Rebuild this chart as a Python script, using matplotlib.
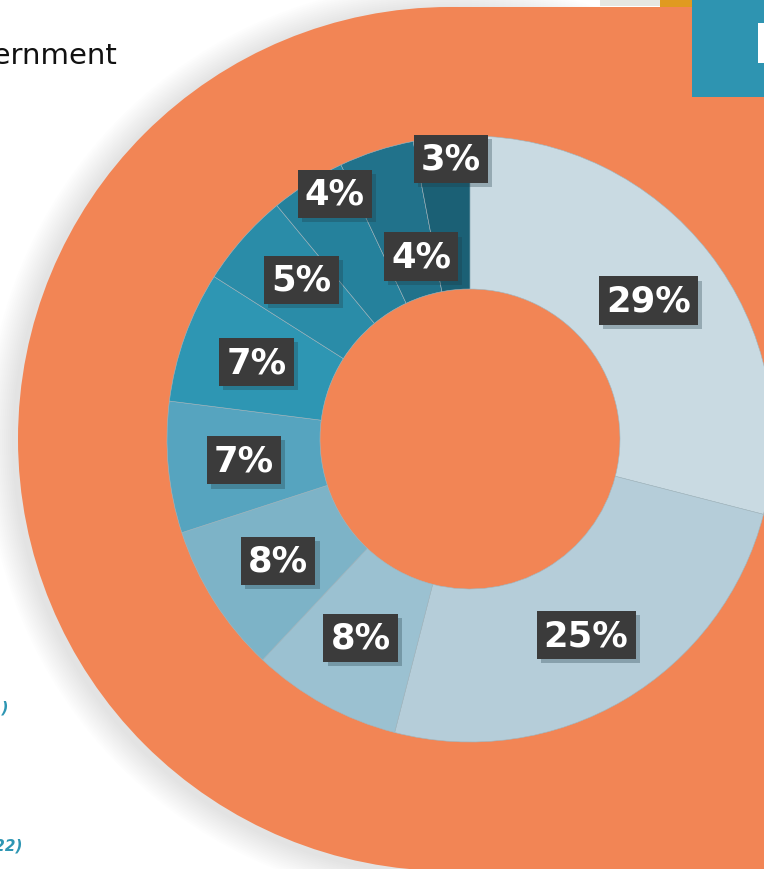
import matplotlib
matplotlib.use("Agg")
import matplotlib.pyplot as plt
import numpy as np
from matplotlib.patches import Circle, Rectangle
import matplotlib.patheffects as pe

# ---- data ----
shares = [29, 25, 8, 8, 7, 7, 5, 4, 4, 3]
labels = [f"{v}%" for v in shares]
slice_colors = ["#c9dae2", "#b5cdd9", "#9bc1d1", "#7db3c7", "#56a4bf",
                "#2e96b3", "#2a8ca8", "#25819c", "#21728b", "#1b6075"]
top_text = "Government"
side_notes = ["(2021)", "(2022)"]

# ---- layout / style ----
W, H = 764, 870
ORANGE = "#f28555"
CX, CY = 470, H - 440
R_OUT, R_IN = 303, 150
# per-label placement tweaks (radius, angular offset in degrees)
label_r = [226, 228, 227, 227, 227, 227, 232, 280, 189, 281]
label_dang = [0, 0, 0, 0, 0, 0, -2, -3.5, -3, -1.5]

fig = plt.figure(figsize=(W / 100, H / 100), dpi=100)
ax = fig.add_axes([0, 0, 1, 1])

# orange stadium background with soft shadow
BCX, BCY, BR = 450, H - 440, 432
for i in range(14, 0, -1):
    ax.add_patch(Circle((BCX - 4, BCY - 3), BR + i * 2.0, color="#8a8a8a",
                        alpha=0.012, lw=0, zorder=1))
ax.add_patch(Circle((BCX, BCY), BR, color=ORANGE, lw=0, zorder=2))
ax.add_patch(Rectangle((BCX, BCY - BR), W, 2 * BR, color=ORANGE, lw=0, zorder=2))

# donut
wedges, _ = ax.pie(shares, colors=slice_colors, startangle=90, counterclock=False,
                   radius=R_OUT, center=(CX, CY),
                   wedgeprops=dict(width=R_OUT - R_IN, edgecolor="#9db8c3",
                                   linewidth=0.4))
for w in wedges:
    w.set_zorder(3)

# labels
cum = np.cumsum([0] + shares[:-1])
total = sum(shares)
for i, (v, lab) in enumerate(zip(shares, labels)):
    mid = (cum[i] + v / 2) / total * 360
    ang = np.deg2rad(90 - mid + label_dang[i])
    x = CX + label_r[i] * np.cos(ang)
    y = CY + label_r[i] * np.sin(ang)
    t = ax.text(x, y, lab, ha="center", va="center", fontsize=25.5, fontweight="bold",
                color="white", zorder=5,
                bbox=dict(boxstyle="square,pad=0.2", fc="#3b3b3b", ec="none"))
    t.get_bbox_patch().set_path_effects([
        pe.SimplePatchShadow(offset=(3, -3), shadow_rgbFace="#1e3a44", alpha=0.3),
        pe.Normal()])

# surrounding page elements
ax.text(117, H - 64, top_text, ha="right", va="baseline", fontsize=21, color="#111111",
        zorder=6)
ax.text(9, H - 713, side_notes[0], ha="right", va="baseline", fontsize=11,
        fontstyle="italic", fontweight="bold", color="#2e96b3", zorder=6)
ax.text(23, H - 851, side_notes[1], ha="right", va="baseline", fontsize=11,
        fontstyle="italic", fontweight="bold", color="#2e96b3", zorder=6)

ax.add_patch(Rectangle((600, H - 7), 60, 7, color="#e6e6e2", lw=0, zorder=6))
ax.add_patch(Rectangle((660, H - 8), 32, 8, color="#e09a20", lw=0, zorder=6))
ax.add_patch(Rectangle((692, H - 98), W - 692, 98, color="#2e94b1", lw=0, zorder=6))
ax.add_patch(Rectangle((758, H - 64), 10, 40, color="white", lw=0, zorder=7))

ax.set_xlim(0, W)
ax.set_ylim(0, H)
ax.set_aspect("auto")
ax.axis("off")
fig.savefig("out.png", dpi=100)
